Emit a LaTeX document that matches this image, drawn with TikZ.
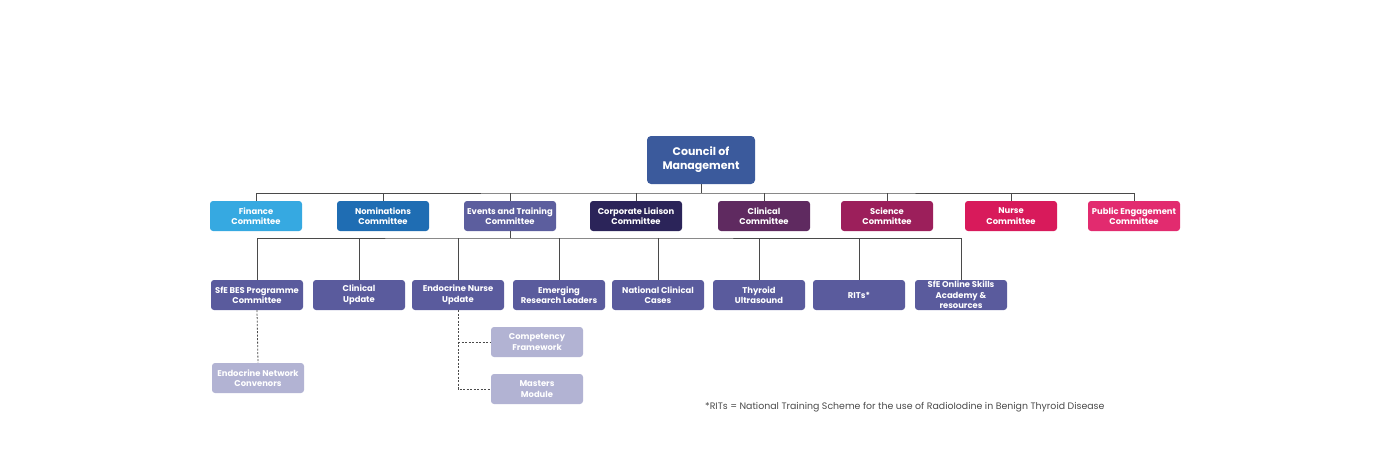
\documentclass[tikz,border=0pt]{standalone}
\usepackage{fontspec}
\setmainfont{Poppins}
\definecolor{council}{HTML}{3B5A9C}
\definecolor{finance}{HTML}{36A9E1}
\definecolor{nomin}{HTML}{1F6DB3}
\definecolor{events}{HTML}{5C5E9E}
\definecolor{corp}{HTML}{2B2459}
\definecolor{clinical}{HTML}{5F2A60}
\definecolor{science}{HTML}{9C1F5B}
\definecolor{nurse}{HTML}{D81A5B}
\definecolor{public}{HTML}{E22B6F}
\definecolor{sub}{HTML}{5A5B9D}
\definecolor{light}{HTML}{B2B3D3}
\definecolor{conn}{HTML}{4A4A4A}
\tikzset{
  x=1pt,y=1pt,
  box/.style={rounded corners=3pt,minimum width=92pt,minimum height=30pt,inner sep=1pt,
    text=white,align=center,font=\fontsize{8.4}{10.5}\selectfont\bfseries},
  bigbox/.style={rounded corners=4pt,minimum width=108pt,minimum height=48pt,inner sep=2pt,
    text=white,align=center,font=\fontsize{11}{14}\selectfont\bfseries,fill=council},
  conline/.style={draw=conn,line width=0.9pt},
  dashline/.style={draw=conn,line width=0.8pt,dash pattern=on 2pt off 1.5pt},
}
\begin{document}
\begin{tikzpicture}
\useasboundingbox (0,0) rectangle (1400,467);
% council
\node[bigbox] (council) at (701,307) {Council of\\Management};
% row 1
\node[box,fill=finance] (fin) at (256,251) {Finance\\Committee};
\node[box,fill=nomin] (nom) at (383,251) {Nominations\\Committee};
\node[box,fill=events] (evt) at (510,251) {Events and Training\\Committee};
\node[box,fill=corp] (cor) at (636,251) {Corporate Liaison\\Committee};
\node[box,fill=clinical] (cli) at (764,251) {Clinical\\Committee};
\node[box,fill=science] (sci) at (887,251) {Science\\Committee};
\node[box,fill=nurse] (nur) at (1011,251) {Nurse\\Committee};
\node[box,fill=public] (pub) at (1134,251) {Public Engagement\\Committee};
% row 2
\node[box,fill=sub] (bes) at (257,172) {SfE BES Programme\\Committee};
\node[box,fill=sub] (cup) at (359,172) {Clinical\\Update};
\node[box,fill=sub] (enu) at (458,172) {Endocrine Nurse\\Update};
\node[box,fill=sub] (erl) at (559,172) {Emerging\\Research Leaders};
\node[box,fill=sub] (ncc) at (658,172) {National Clinical\\Cases};
\node[box,fill=sub] (thy) at (759,172) {Thyroid\\Ultrasound};
\node[box,fill=sub] (rit) at (859,172) {RITs*};
\node[box,fill=sub] (onl) at (961,172) {SfE Online Skills\\Academy \&\\resources};
% row 3
\node[box,fill=light] (enc) at (258,89) {Endocrine Network\\Convenors};
\node[box,fill=light] (cfw) at (537,125) {Competency\\Framework};
\node[box,fill=light] (mmd) at (537,78) {Masters\\Module};
% bus coordinates
\coordinate (b1) at (701,274);
\coordinate (b2) at (510,229);
% connectors level 1
\draw[conline] (council.south) -- (b1);
\draw[conline] (fin.north) |- (b1) -| (pub.north);
\foreach \n in {nom,evt,cor,cli,sci,nur}{\draw[conline] (\n.north) -- (\n.north |- b1);}
% connectors level 2
\draw[conline] (evt.south) -- (b2);
\draw[conline] (bes.north) |- (b2) -| (onl.north);
\foreach \n in {cup,enu,erl,ncc,thy,rit}{\draw[conline] (\n.north) -- (\n.north |- b2);}
% dashed
\draw[dashline] (bes.south) -- (enc.north);
\draw[dashline] (enu.south) |- (mmd.west);
\draw[dashline] (enu.south |- cfw.west) -- (cfw.west);
% footnote
\node[anchor=west,inner sep=0pt,text=conn,font=\fontsize{9.4}{11}\selectfont] (fn) at (705,60)
  {*RITs = National Training Scheme for the use of RadioIodine in Benign Thyroid Disease};
\end{tikzpicture}
\end{document}
